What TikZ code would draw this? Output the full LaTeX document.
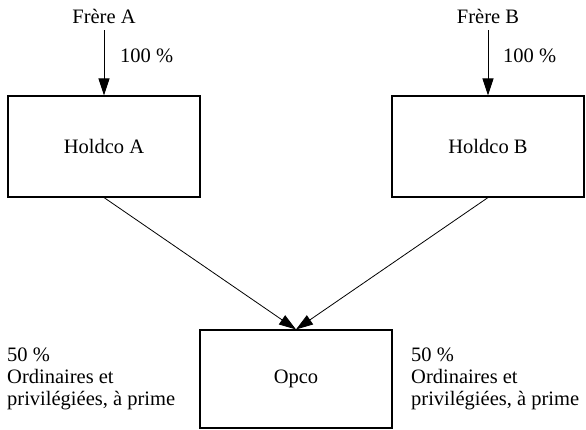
\documentclass[tikz,border=0pt]{standalone}
\usepackage{fontspec}
\setmainfont{Liberation Serif}
\usetikzlibrary{arrows.meta}
\begin{document}
\begin{tikzpicture}[x=1pt,y=-1pt,
  font=\fontsize{20.5}{22}\selectfont,
  entity/.style={draw,line width=1.1pt,minimum width=192pt,inner sep=0pt},
  owner/.style={inner xsep=0pt,inner ysep=6pt,anchor=base},
  pct/.style={inner sep=0pt,anchor=base west},
  share/.style={inner sep=0pt,align=left,anchor=north west},
  link/.style={line width=0.8pt,-{Triangle[length=17pt,width=11pt]}}]
  \useasboundingbox (0,0) rectangle (586,430);

  % shareholders
  \node[owner] (fa) at (104,24) {Frère A};
  \node[owner] (fb) at (488,24) {Frère B};

  % holding companies
  \node[entity,minimum height=101pt] (ha) at (104,146.5) {Holdco A};
  \node[entity,minimum height=101pt] (hb) at (488,146.5) {Holdco B};

  % operating company
  \node[entity,minimum height=98pt] (op) at (296,379) {Opco};

  % ownership links
  \draw[link] (fa) -- (ha.north);
  \draw[link] (fb) -- (hb.north);
  \draw[link] (ha.south) -- (op.north);
  \draw[link] (hb.south) -- (op.north);

  % percentages
  \node[pct] (pa) at (120,63) {100 \%};
  \node[pct] (pb) at (503,63) {100 \%};

  \node[share] (sa) at (7,348) {50 \%\\Ordinaires et\\privilégiées, à prime};
  \node[share] (sb) at (411,348) {50 \%\\Ordinaires et\\privilégiées, à prime};
\end{tikzpicture}
\end{document}
